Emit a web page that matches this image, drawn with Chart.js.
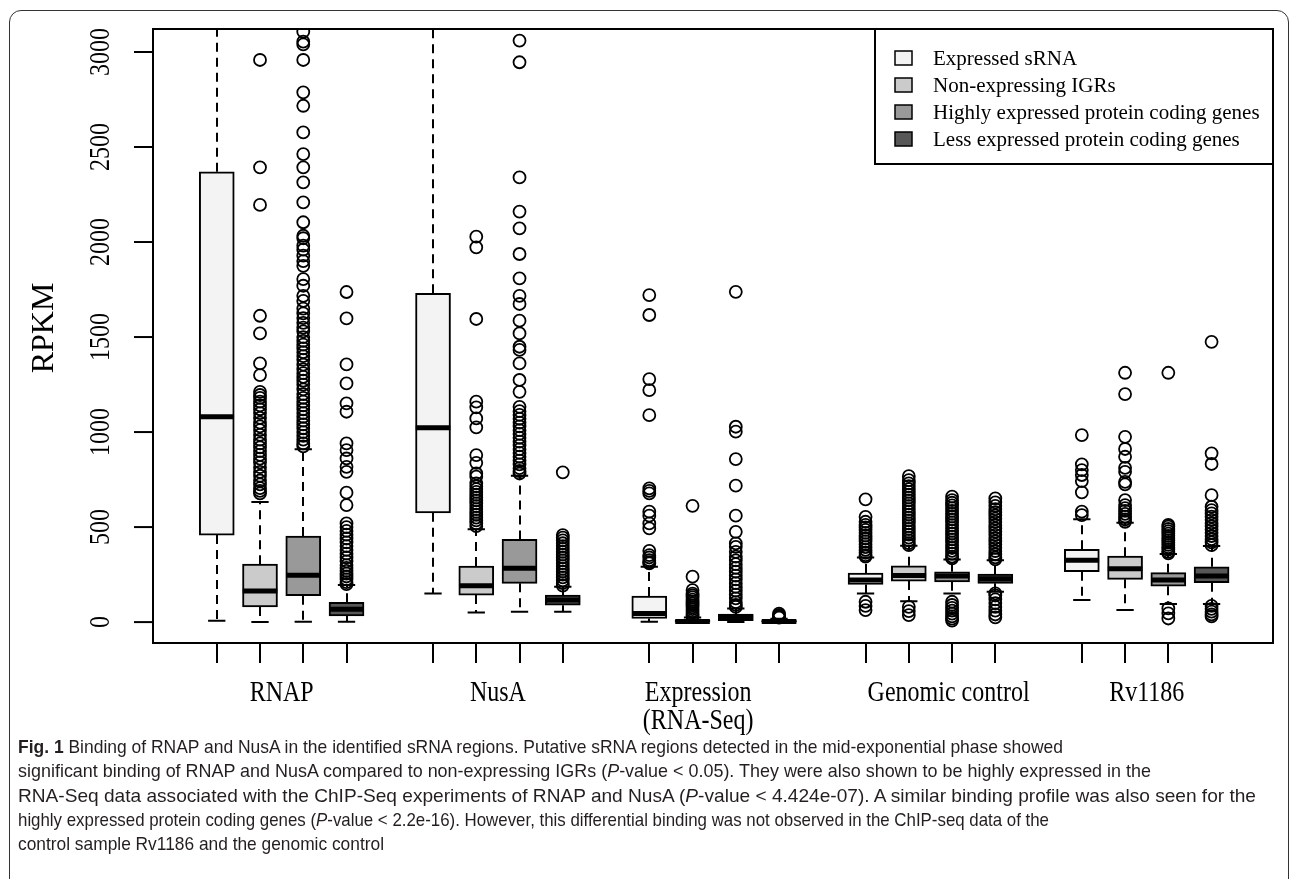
<!DOCTYPE html>
<html><head><meta charset="utf-8">
<script src="https://cdn.jsdelivr.net/npm/chart.js@4.4.1/dist/chart.umd.min.js"></script>
<style>
html,body{margin:0;padding:0;background:#fff;}
#wrap{position:relative;width:1290px;height:879px;overflow:hidden;background:#fff;}
#frame{position:absolute;left:9px;top:10px;width:1280px;height:900px;border:1.5px solid #333;border-radius:12px;box-sizing:border-box;}
#c{position:absolute;left:0;top:0;}
#caption{position:absolute;left:18px;top:735px;font-family:'Liberation Sans',Arial,sans-serif;font-size:18.5px;line-height:24.3px;color:#231f20;}
.ln{display:block;white-space:nowrap;}
.ln span.t{display:inline-block;transform-origin:0 50%;}
</style></head>
<body><div id="wrap">
<div id="frame"></div>
<canvas id="c" width="1290" height="879"></canvas>
<div id="caption">
<div class="ln"><span class="t" data-w="1045"><b>Fig. 1</b> Binding of RNAP and NusA in the identified sRNA regions. Putative sRNA regions detected in the mid-exponential phase showed</span></div>
<div class="ln"><span class="t" data-w="1133">significant binding of RNAP and NusA compared to non-expressing IGRs (<i>P</i>-value &lt; 0.05). They were also shown to be highly expressed in the</span></div>
<div class="ln"><span class="t" data-w="1238">RNA-Seq data associated with the ChIP-Seq experiments of RNAP and NusA (<i>P</i>-value &lt; 4.424e-07). A similar binding profile was also seen for the</span></div>
<div class="ln"><span class="t" data-w="1031">highly expressed protein coding genes (<i>P</i>-value &lt; 2.2e-16). However, this differential binding was not observed in the ChIP-seq data of the</span></div>
<div class="ln"><span class="t" data-w="366">control sample Rv1186 and the genomic control</span></div>
</div>
</div>
<script>
// ---------- data ----------
const groups = ['RNAP', 'NusA', 'Expression\n(RNA-Seq)', 'Genomic control', 'Rv1186'];
const groupLabelAt = [2.5, 7.5, 12.13, 17.92, 22.5];   // x position of each group label (axis units)
const series = ['Expressed sRNA', 'Non-expressing IGRs', 'Highly expressed protein coding genes', 'Less expressed protein coding genes'];
const yTicks = [0, 500, 1000, 1500, 2000, 2500, 3000];
const yTickLabels = ['0', '500', '1000', '1500', '2000', '2500', '3000'];
const yTitle = 'RPKM';

// box statistics per series (one value per group)
const sRNA_low   = [7, 151, 2, 151, 116];
const sRNA_q1    = [458, 575, 19, 198, 265];
const sRNA_med   = [1080, 1023, 45, 222, 326];
const sRNA_q3    = [2370, 1730, 137, 258, 383];
const sRNA_high  = [3600, 3500, 291, 340, 541];

const igr_low    = [0, 51, 0, 110, 63];
const igr_q1     = [80, 142, 0, 216, 225];
const igr_med    = [163, 191, 3, 245, 281];
const igr_q3     = [305, 295, 10, 296, 347];
const igr_high   = [632, 488, 24, 402, 523];

const hi_low     = [2, 54, 0, 151, 95];
const hi_q1      = [139, 204, 8, 212, 189];
const hi_med     = [247, 283, 25, 242, 221];
const hi_q3      = [453, 435, 42, 265, 260];
const hi_high    = [910, 770, 72, 330, 358];

const lo_low     = [2, 54, 0, 160, 95];
const lo_q1      = [33, 89, 0, 204, 207];
const lo_med     = [67, 116, 3, 228, 242];
const lo_q3      = [104, 142, 8, 253, 291];
const lo_high    = [195, 186, 18, 326, 400];

// outliers per series, per group
const sRNA_out = [
  [],
  [],
  [1721, 1616, 1279, 1221, 1089, 704, 690, 677, 581, 560, 519, 493, 375, 352, 340, 326, 315, 309],
  [646, 554, 528, 512, 498, 485, 470, 455, 440, 425, 410, 395, 380, 365, 352, 344, 107, 85, 63],
  [984, 830, 800, 774, 742, 683, 581, 563]
];
const igr_out = [
  [2958, 2393, 2195, 1612, 1519, 1361, 1300, 1212, 1195, 1180, 1160, 1140, 1120, 1100, 1075, 1050, 1030, 1010, 985, 960, 940, 920, 900, 880, 860, 840, 815, 790, 770, 745, 725, 705, 690, 677],
  [2028, 1972, 1595, 1160, 1130, 1072, 1025, 879, 838, 782, 765, 730, 715, 700, 685, 670, 655, 640, 625, 610, 595, 580, 565, 550, 535, 520, 505],
  [612, 239, 168, 150, 140, 130, 118, 108, 98, 88, 78, 68, 58, 48, 38, 30],
  [768, 747, 730, 715, 700, 685, 670, 655, 640, 625, 610, 595, 580, 565, 550, 535, 520, 505, 490, 475, 460, 445, 430, 415, 405, 80, 58, 37],
  [1312, 1200, 975, 911, 870, 812, 791, 738, 725, 642, 616, 600, 585, 570, 555, 540, 528]
];
const hi_out = [
  [3180, 3107, 3055, 3040, 2958, 2788, 2717, 2577, 2463, 2393, 2314, 2209, 2104, 2033, 2020, 1981, 1960, 1928, 1900, 1875, 1805, 1770, 1717, 1690, 1650, 1625, 1600, 1575, 1550, 1530, 1500, 1480, 1460, 1440, 1420, 1400, 1380, 1355, 1330, 1310, 1290, 1270, 1250, 1225, 1200, 1180, 1160, 1140, 1120, 1100, 1080, 1060, 1040, 1020, 1000, 980, 960, 940, 925],
  [3060, 2946, 2340, 2160, 2072, 1937, 1809, 1717, 1674, 1586, 1519, 1449, 1432, 1361, 1274, 1212, 1133, 1110, 1090, 1070, 1050, 1030, 1010, 990, 970, 950, 930, 910, 890, 870, 850, 830, 810, 795, 782],
  [1738, 1028, 1002, 858, 718, 560, 475, 414, 396, 370, 344, 325, 305, 285, 265, 245, 225, 205, 185, 165, 145, 125, 105, 90, 80],
  [660, 642, 628, 614, 600, 585, 570, 555, 540, 525, 510, 495, 480, 465, 450, 435, 420, 405, 390, 375, 360, 345, 335, 107, 90, 75, 60, 45, 30, 18, 8],
  [1312, 511, 502, 490, 478, 466, 454, 442, 430, 418, 406, 394, 382, 370, 362, 72, 46, 19]
];
const lo_out = [
  [1737, 1598, 1356, 1256, 1151, 1107, 940, 905, 861, 817, 791, 681, 616, 519, 500, 480, 460, 440, 420, 400, 380, 360, 340, 320, 300, 285, 270, 255, 240, 225, 210, 200],
  [788, 458, 445, 430, 415, 400, 385, 370, 355, 340, 325, 310, 295, 280, 265, 250, 235, 220, 205, 192],
  [45, 38, 32, 28, 24],
  [651, 630, 612, 595, 578, 561, 544, 527, 510, 493, 476, 459, 442, 425, 408, 391, 374, 357, 340, 330, 151, 140, 120, 100, 80, 60, 40, 25],
  [1475, 888, 832, 668, 607, 589, 572, 555, 538, 521, 504, 487, 470, 453, 436, 420, 405, 85, 70, 55, 40, 30]
];

const fills = ['#f3f3f3', '#cbcbcb', '#999999', '#575757'];

// ---------- assembly ----------
const stats = [
  {low: sRNA_low, q1: sRNA_q1, med: sRNA_med, q3: sRNA_q3, high: sRNA_high, out: sRNA_out},
  {low: igr_low, q1: igr_q1, med: igr_med, q3: igr_q3, high: igr_high, out: igr_out},
  {low: hi_low, q1: hi_q1, med: hi_med, q3: hi_q3, high: hi_high, out: hi_out},
  {low: lo_low, q1: lo_q1, med: lo_med, q3: lo_q3, high: lo_high, out: lo_out}
];
const pos = (gi, si) => gi * (series.length + 1) + si + 1;

const datasets = [];
series.forEach((name, si) => {
  const st = stats[si];
  datasets.push({
    type: 'bar', label: name, order: 2,
    data: groups.map((g, gi) => ({x: pos(gi, si), y: [st.q1[gi], st.q3[gi]]})),
    backgroundColor: fills[si], borderColor: '#000', borderWidth: 2,
    borderSkipped: false, barThickness: 35, grouped: false
  });
});
series.forEach((name, si) => {
  const st = stats[si];
  const pts = [];
  groups.forEach((g, gi) => st.out[gi].forEach(v => pts.push({x: pos(gi, si), y: v})));
  datasets.push({
    type: 'scatter', label: name + ' outliers', order: 1, data: pts,
    pointRadius: 6, pointBorderWidth: 1.8, pointBorderColor: '#000',
    pointBackgroundColor: 'rgba(0,0,0,0)', pointStyle: 'circle', clip: 0
  });
});

const SERIF = "'Liberation Serif','Times New Roman',serif";

const rPlot = {
  id: 'rplot',
  beforeDatasetsDraw(chart) {
    const {ctx, chartArea: a, scales: {x, y}} = chart;
    ctx.save();
    ctx.beginPath(); ctx.rect(a.left, a.top, a.right - a.left, a.bottom - a.top); ctx.clip();
    ctx.strokeStyle = '#000';
    series.forEach((n, si) => {
      const st = stats[si];
      groups.forEach((g, gi) => {
        const p = pos(gi, si);
        const px = Math.round(x.getPixelForValue(p));
        const c0 = x.getPixelForValue(p - 0.2), c1 = x.getPixelForValue(p + 0.2);
        const yq1 = y.getPixelForValue(st.q1[gi]), yq3 = y.getPixelForValue(st.q3[gi]);
        const ylo = y.getPixelForValue(st.low[gi]), yhi = y.getPixelForValue(st.high[gi]);
        ctx.lineWidth = 2;
        ctx.setLineDash([9, 6]);
        ctx.beginPath();
        ctx.moveTo(px, yq3); ctx.lineTo(px, yhi);
        ctx.moveTo(px, yq1); ctx.lineTo(px, ylo);
        ctx.stroke();
        ctx.setLineDash([]);
        ctx.beginPath();
        ctx.moveTo(c0, yhi); ctx.lineTo(c1, yhi);
        ctx.moveTo(c0, ylo); ctx.lineTo(c1, ylo);
        ctx.stroke();
      });
    });
    ctx.restore();
  },
  afterDatasetDraw(chart, args) {
    const ds = chart.data.datasets[args.index];
    if (ds.type !== 'bar') return;
    const si = args.index;
    const st = stats[si];
    const {ctx, scales: {x, y}} = chart;
    ctx.save();
    ctx.strokeStyle = '#000';
    ctx.lineWidth = 5;
    groups.forEach((g, gi) => {
      const p = pos(gi, si);
      const my = y.getPixelForValue(st.med[gi]);
      ctx.beginPath();
      ctx.moveTo(x.getPixelForValue(p - 0.4), my);
      ctx.lineTo(x.getPixelForValue(p + 0.4), my);
      ctx.stroke();
    });
    ctx.restore();
  },
  afterDraw(chart) {
    const {ctx, chartArea: a, scales: {x, y}} = chart;
    ctx.save();
    ctx.strokeStyle = '#000';
    ctx.fillStyle = '#000';
    // plot box
    ctx.lineWidth = 2;
    ctx.strokeRect(a.left, a.top, a.right - a.left, a.bottom - a.top);
    // y ticks and labels
    yTicks.forEach((v, i) => {
      const py = y.getPixelForValue(v);
      ctx.beginPath(); ctx.moveTo(a.left - 19, py); ctx.lineTo(a.left, py); ctx.stroke();
      ctx.save();
      ctx.translate(109, py);
      ctx.rotate(-Math.PI / 2);
      ctx.scale(1, 1.2);
      ctx.font = '24px ' + SERIF;
      ctx.textAlign = 'center';
      ctx.textBaseline = 'alphabetic';
      ctx.fillText(yTickLabels[i], 0, 0);
      ctx.restore();
    });
    // y title
    ctx.save();
    ctx.translate(53, (a.top + a.bottom) / 2 - 8);
    ctx.rotate(-Math.PI / 2);
    ctx.font = '32px ' + SERIF;
    ctx.textAlign = 'center';
    ctx.fillText(yTitle, 0, 0);
    ctx.restore();
    // x ticks and group labels
    groups.forEach((g, gi) => {
      series.forEach((n, si) => {
        const px = Math.round(x.getPixelForValue(pos(gi, si)));
        ctx.beginPath(); ctx.moveTo(px, a.bottom); ctx.lineTo(px, a.bottom + 20); ctx.stroke();
      });
      const cx = x.getPixelForValue(groupLabelAt[gi]);
      g.split('\n').forEach((line, li) => {
        ctx.save();
        ctx.translate(cx, 701 + li * 28);
        ctx.scale(1, 1.2);
        ctx.font = '24px ' + SERIF;
        ctx.textAlign = 'center';
        ctx.textBaseline = 'alphabetic';
        ctx.fillText(line, 0, 0);
        ctx.restore();
      });
    });
    // legend
    const L = {left: 875, top: a.top, right: a.right, bottom: 164};
    ctx.fillStyle = '#fff';
    ctx.fillRect(L.left, L.top, L.right - L.left, L.bottom - L.top);
    ctx.lineWidth = 2;
    ctx.strokeRect(L.left, L.top, L.right - L.left, L.bottom - L.top);
    series.forEach((name, si) => {
      const cy = 58 + si * 27;
      ctx.fillStyle = fills[si];
      ctx.fillRect(895, cy - 7, 17, 14);
      ctx.lineWidth = 1.5;
      ctx.strokeStyle = '#000';
      ctx.strokeRect(895, cy - 7, 17, 14);
      ctx.fillStyle = '#000';
      ctx.font = '21px ' + SERIF;
      ctx.textAlign = 'left';
      ctx.textBaseline = 'middle';
      ctx.fillText(name, 933, cy + 1);
    });
    ctx.restore();
  }
};

new Chart(document.getElementById('c'), {
  type: 'bar',
  data: {datasets},
  options: {
    responsive: false,
    animation: false,
    events: [],
    layout: {padding: {left: 153, top: 29, right: 17, bottom: 236}},
    plugins: {legend: {display: false}, tooltip: {enabled: false}},
    scales: {
      x: {type: 'linear', min: -0.474, max: 25.42, display: false, offset: false},
      y: {type: 'linear', min: -110, max: 3121, display: false}
    }
  },
  plugins: [rPlot]
});

// fit caption lines to the reference widths
document.querySelectorAll('.ln span.t').forEach(s => {
  const w = s.getBoundingClientRect().width;
  const target = parseFloat(s.dataset.w);
  s.style.transform = 'scaleX(' + (target / w) + ')';
});
</script>
</body></html>
